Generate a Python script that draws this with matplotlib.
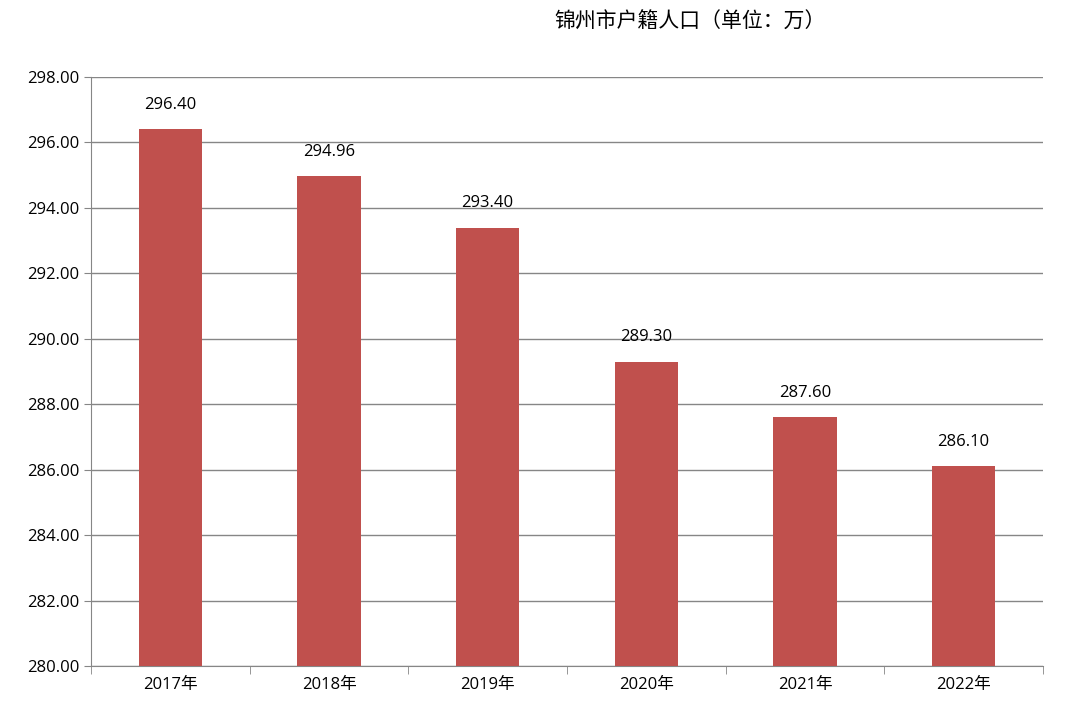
import matplotlib
matplotlib.use('Agg')
import matplotlib.pyplot as plt
import numpy as np

years = ['2017年', '2018年', '2019年', '2020年', '2021年', '2022年']
population = [296.40, 294.96, 293.40, 289.30, 287.60, 286.10]
yticks = np.arange(280, 299, 2)

plt.rcParams['font.family'] = ['Open Sans', 'Noto Sans CJK SC']

fig = plt.figure(figsize=(10.67, 7.25), dpi=100)
ax = fig.add_axes([0.0853, 0.0814, 0.8922, 0.8124])

x = np.arange(len(years))
ax.bar(x, population, width=0.4, color='#C0504D', zorder=3)
for xi, v in zip(x, population):
    ax.text(xi, v + 0.5, '{:.2f}'.format(v), ha='center', va='bottom', fontsize=12)

ax.set_xlim(-0.5, len(years) - 0.5)
ax.set_ylim(280, 298)
ax.set_yticks(yticks)
ax.set_yticklabels(['{:.2f}'.format(t) for t in yticks], fontsize=12)
ax.set_xticks(x)
ax.set_xticklabels(years, fontsize=12)
ax.tick_params(axis='x', length=0, pad=8)
ax.tick_params(axis='y', length=5, color='#868686')
# category boundary ticks
ax.set_xticks(np.arange(-0.5, len(years)), minor=True)
ax.tick_params(axis='x', which='minor', length=6, color='#868686')

ax.grid(axis='y', color='#868686', linewidth=1, zorder=0)
for s in ['top', 'right']:
    ax.spines[s].set_visible(False)
ax.spines['left'].set_color('#868686')
ax.spines['bottom'].set_color('#868686')

fig.text(0.647, 0.97, '锦州市户籍人口（单位：万）', ha='center', va='center',
         fontsize=15, family='Noto Sans CJK SC')

fig.savefig('out.png', dpi=100)
